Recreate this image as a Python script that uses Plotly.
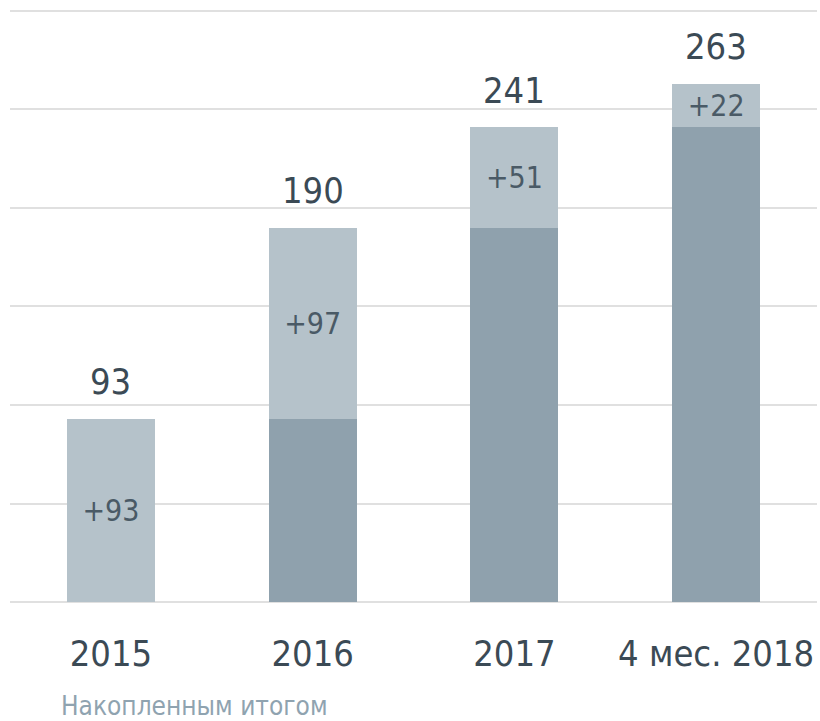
import plotly.graph_objects as go

categories = ["2015", "2016", "2017", "4 мес. 2018"]
base_values = [0, 93, 190, 241]
increments = [93, 97, 51, 22]
totals = [93, 190, 241, 263]
inner_labels = ["+93", "+97", "+51", "+22"]
y_ticks = [0, 50, 100, 150, 200, 250, 300]
subtitle = "Накопленным итогом"

FONT = "DejaVu Sans Condensed, DejaVu Sans"
fig = go.Figure()
fig.add_trace(go.Bar(
    x=categories, y=base_values,
    marker=dict(color="#8fa1ad", line=dict(width=0)),
    hoverinfo="skip",
))
fig.add_trace(go.Bar(
    x=categories, y=increments,
    marker=dict(color="#b5c2ca", line=dict(width=0)),
    text=inner_labels, textposition="inside", insidetextanchor="middle",
    constraintext="none", textangle=0,
    textfont=dict(family=FONT, size=30, color="#4a5a66"),
    hoverinfo="skip",
))

# category index positions for annotations (avoid numeric-string ambiguity)
for i, t in enumerate(totals):
    fig.add_annotation(x=i, y=t, text=str(t), showarrow=False,
                       yanchor="middle", yshift=37,
                       font=dict(family=FONT, size=36, color="#3b4a55"))

fig.add_annotation(xref="paper", yref="paper", x=0.0605, y=-0.176,
                   xanchor="left", yanchor="middle", text=subtitle,
                   showarrow=False,
                   font=dict(family=FONT, size=26, color="#8fa3b0"))

fig.update_layout(
    barmode="stack",
    bargap=0.564,
    width=820, height=721,
    margin=dict(l=10, r=3, t=9, b=119),
    plot_bgcolor="white", paper_bgcolor="white",
    showlegend=False,
    xaxis=dict(type="category", range=[-0.5, len(categories) - 0.5],
               showgrid=False, showline=False, ticks="",
               ticklabelstandoff=27,
               tickfont=dict(family=FONT, size=36, color="#3b4a55")),
    yaxis=dict(range=[0, 301], tickvals=y_ticks, showticklabels=False,
               showgrid=True, gridcolor="#e0e0e0", gridwidth=2,
               zeroline=True, zerolinecolor="#e0e0e0", zerolinewidth=2,
               showline=False),
)

fig.write_html("out.html")
